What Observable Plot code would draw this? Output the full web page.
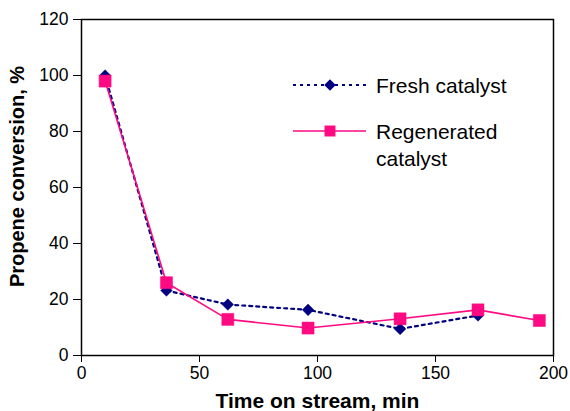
<!DOCTYPE html>
<html>
<head>
<meta charset="utf-8">
<script src="https://cdn.jsdelivr.net/npm/d3@7"></script>
<script src="https://cdn.jsdelivr.net/npm/@observablehq/plot@0.6"></script>
<style>
  html, body { margin: 0; padding: 0; background: #fff; }
  #wrap { position: relative; width: 570px; height: 411px; font-family: "Liberation Sans", Arial, sans-serif; }
  #legend { position: absolute; left: 0; top: 0; }
</style>
</head>
<body>
<div id="wrap"></div>
<script>
// Data
const times = [10, 36, 62, 96, 135, 168, 194];
const freshTimes = [10, 36, 62, 96, 135, 168];
const freshValues = [100, 23.2, 18.2, 16.3, 9.5, 14.3];
const regenValues = [98, 26, 12.9, 9.8, 13.1, 16.3, 12.5];
const xTicks = [0, 50, 100, 150, 200];
const yTicks = [0, 20, 40, 60, 80, 100, 120];
const seriesNames = ["Fresh catalyst", "Regenerated catalyst"];
const navy = "#000080";
const pink = "#ff0a82";

const fresh = freshTimes.map((t, i) => ({t, v: freshValues[i]}));
const regen = times.map((t, i) => ({t, v: regenValues[i]}));

const chart = Plot.plot({
  width: 570,
  height: 411,
  marginLeft: 81,
  marginRight: 17,
  marginTop: 19,
  marginBottom: 56,
  style: {fontFamily: "'Liberation Sans', Arial, sans-serif", background: "#fff", overflow: "visible"},
  x: {domain: [0, 200]},
  y: {domain: [0, 120]},
  marks: [
    Plot.frame({stroke: "#000", strokeWidth: 1.5}),
    Plot.axisX({ticks: xTicks, tickSize: 7, tickPadding: 4, fontSize: 17.5, stroke: "#000", color: "#000",
      label: "Time on stream, min", labelAnchor: "center", labelOffset: 52, labelArrow: "none"}),
    Plot.axisY({ticks: yTicks, tickSize: 8, tickPadding: 5, fontSize: 17.5, stroke: "#000", color: "#000",
      label: "Propene conversion, %", labelAnchor: "center", labelOffset: 72, labelArrow: "none"}),
    Plot.line(fresh, {x: "t", y: "v", stroke: navy, strokeWidth: 2.2, strokeDasharray: "3,4"}),
    Plot.line(regen, {x: "t", y: "v", stroke: pink, strokeWidth: 1.6}),
    Plot.dot(fresh, {x: "t", y: "v", symbol: "diamond2", r: 5.2, fill: navy, stroke: navy, strokeWidth: 0.5}),
    Plot.dot(regen, {x: "t", y: "v", symbol: "square", r: 6.8, fill: pink, stroke: pink, strokeWidth: 0.5})
  ]
});

// Bold axis titles
d3.select(chart).selectAll("[aria-label='x-axis label'] text")
  .style("font-weight", "bold").style("font-size", "21px");
d3.select(chart).selectAll("[aria-label='y-axis label']")
  .attr("transform", function() {
    const t = this.getAttribute("transform") || "";
    return "translate(0,-11) " + t;
  });
d3.select(chart).selectAll("[aria-label='y-axis label'] text")
  .style("font-weight", "bold").style("font-size", "20px");

document.getElementById("wrap").appendChild(chart);

// Legend overlay
const leg = d3.select("#wrap").append("svg").attr("id", "legend").attr("width", 570).attr("height", 411)
  .style("font-family", "'Liberation Sans', Arial, sans-serif");
const entries = [
  {name: seriesNames[0], color: navy, dash: "3,4", sw: 2.2, sym: d3.symbolDiamond2, size: 85, lines: ["Fresh catalyst"], y: 85},
  {name: seriesNames[1], color: pink, dash: null, sw: 1.6, sym: d3.symbolSquare, size: 120, lines: ["Regenerated", "catalyst"], y: 131}
];
entries.forEach(e => {
  const g = leg.append("g");
  g.append("line").attr("x1", 293).attr("x2", 366).attr("y1", e.y).attr("y2", e.y)
    .attr("stroke", e.color).attr("stroke-width", e.sw).attr("stroke-dasharray", e.dash);
  g.append("path").attr("d", d3.symbol(e.sym, e.size)()).attr("transform", `translate(330,${e.y})`).attr("fill", e.color);
  e.lines.forEach((l, i) => {
    g.append("text").attr("x", 376).attr("y", e.y + i * 27).attr("dy", "0.36em")
      .attr("font-size", 21).attr("fill", "#000").text(l);
  });
});
</script>
</body>
</html>
